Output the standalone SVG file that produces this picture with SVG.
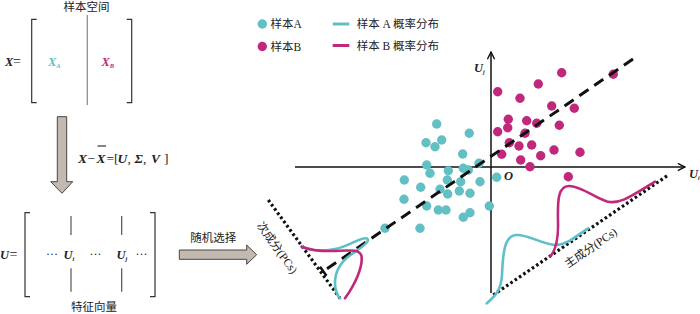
<svg xmlns="http://www.w3.org/2000/svg" width="700" height="314" viewBox="0 0 700 314">
<style>
text{font-family:"Liberation Serif","Noto Sans CJK SC",serif;fill:#222}
.cn{font-size:11.5px}
.m{font-size:12.5px;font-style:italic;font-weight:bold}
.n{font-style:normal;font-weight:normal}
.br{fill:none;stroke:#333;stroke-width:1.2}
.gl{stroke:#888;stroke-width:1.2}
.ar{fill:#c2b9b1;stroke:#4a4440;stroke-width:1}
.ca{fill:#62c0c5}
.ma{fill:#c0297b}
.cl{fill:none;stroke:#5ec0c6;stroke-width:2.6;stroke-linecap:round}
.ml{fill:none;stroke:#c0297b;stroke-width:2.6;stroke-linecap:round}
.ax{stroke:#111;stroke-width:1.5;fill:none}
.dot{stroke:#111;stroke-width:3.2;stroke-dasharray:2.6 2.6;fill:none}
.dash{stroke:#111;stroke-width:3;stroke-dasharray:11 7;fill:none}
</style>
<defs>
<marker id="ah" viewBox="0 0 10 10" refX="9" refY="5" markerWidth="9" markerHeight="9" markerUnits="userSpaceOnUse" orient="auto"><path d="M1,1 L9,5 L1,9" fill="none" stroke="#111" stroke-width="1.6"/></marker>
</defs>

<g id="sample-space">
<text class="cn" x="86.5" y="11" text-anchor="middle">样本空间</text>
<text x="5" y="66" class="m">X</text>
<text x="13" y="66" font-size="14">=</text>
<path class="br" d="M36.7,19.3 H31.7 V102.7 H36.7"/>
<path class="br" d="M126.7,19.3 H131.7 V102.7 H126.7"/>
<line class="gl" x1="87.3" y1="15" x2="87.3" y2="105"/>
<text x="48" y="66" class="m" style="fill:#5ec0c6">X<tspan font-size="6.5" dy="2">A</tspan></text>
<text x="101.5" y="66" class="m" style="fill:#c0297b">X<tspan font-size="6.5" dy="2">B</tspan></text>
</g>

<g id="svd-arrow">
<path class="ar" d="M57.3,116.7 H66.7 V181.7 H72.7 L62,193.3 L50.7,181.7 H57.3 Z"/>
<text y="163" font-size="13.5">
<tspan x="78" font-style="italic" font-weight="bold">X</tspan><tspan x="87.5">−</tspan><tspan x="96.5" font-style="italic" font-weight="bold">X</tspan><tspan x="106.5">=</tspan><tspan x="114">[</tspan><tspan x="117.5" font-style="italic" font-weight="bold">U</tspan><tspan x="127.5">,</tspan><tspan x="134.5" font-style="italic" font-weight="bold">Σ</tspan><tspan x="143">,</tspan><tspan x="151" font-style="italic" font-weight="bold">V</tspan><tspan x="164">]</tspan>
</text>
<line x1="97.5" y1="146" x2="106" y2="146" stroke="#222" stroke-width="1.1"/>
</g>

<g id="eigen-matrix">
<text x="0" y="258.5" class="m">U</text>
<text x="9.5" y="258.5" font-size="14">=</text>
<path class="br" d="M30,212.7 H25 V296.7 H30"/>
<path class="br" d="M150,212.7 H155 V296.7 H150"/>
<line class="gl" x1="71" y1="216" x2="71" y2="235" style="stroke:#555"/>
<line class="gl" x1="71" y1="268.3" x2="71" y2="291.7" style="stroke:#555"/>
<line class="gl" x1="121.7" y1="216" x2="121.7" y2="235" style="stroke:#555"/>
<line class="gl" x1="121.7" y1="268.3" x2="121.7" y2="291.7" style="stroke:#555"/>
<text x="46" y="258" font-size="12">···</text>
<text x="63.5" y="258.5" class="m">U<tspan font-size="6.5" dy="2">i</tspan></text>
<text x="89.5" y="258" font-size="12">···</text>
<text x="116.5" y="258.5" class="m">U<tspan font-size="6.5" dy="2">j</tspan></text>
<text x="135.5" y="258" font-size="12">···</text>
<text class="cn" x="94" y="311" text-anchor="middle">特征向量</text>
</g>

<g id="random-select">
<path class="ar" d="M179.3,250 H246.7 V245 L256.7,254.7 L246.7,264.3 V259.3 H179.3 Z"/>
<text class="cn" x="213.3" y="241.5" text-anchor="middle">随机选择</text>
</g>

<g id="legend">
<circle class="ca" cx="262.3" cy="24" r="4.7"/>
<text class="cn" x="270.5" y="28">样本A</text>
<circle class="ma" cx="262.3" cy="46.5" r="4.7"/>
<text class="cn" x="270.5" y="50.5">样本B</text>
<line x1="332.7" y1="24" x2="349.3" y2="24" stroke="#5ec0c6" stroke-width="3"/>
<text class="cn" x="356.7" y="28">样本 A 概率分布</text>
<line x1="332.7" y1="45.5" x2="349.3" y2="45.5" stroke="#c0297b" stroke-width="3"/>
<text class="cn" x="356.7" y="50">样本 B 概率分布</text>
</g>

<g id="axes">
<line class="ax" x1="295" y1="167" x2="685" y2="167" marker-end="url(#ah)"/>
<line class="ax" x1="491" y1="293" x2="491" y2="52" marker-end="url(#ah)"/>
<text x="474" y="72" class="m" font-size="11">U<tspan font-size="6" dy="2">j</tspan></text>
<text x="689" y="178" class="m" font-size="11">U<tspan font-size="6" dy="2">i</tspan></text>
<text x="504" y="180" class="m" font-size="11">O</text>
</g>

<g id="samples-A">
<circle class="ca" cx="436.7" cy="124" r="4.7"/>
<circle class="ca" cx="426" cy="142.7" r="4.7"/>
<circle class="ca" cx="441.7" cy="140" r="4.7"/>
<circle class="ca" cx="435" cy="146.7" r="4.7"/>
<circle class="ca" cx="469.3" cy="133.3" r="4.7"/>
<circle class="ca" cx="462.7" cy="154" r="4.7"/>
<circle class="ca" cx="426.7" cy="165" r="4.7"/>
<circle class="ca" cx="430" cy="173.3" r="4.7"/>
<circle class="ca" cx="448.3" cy="170.7" r="4.7"/>
<circle class="ca" cx="463.3" cy="168.3" r="4.7"/>
<circle class="ca" cx="468.3" cy="170" r="4.7"/>
<circle class="ca" cx="479" cy="163.3" r="4.7"/>
<circle class="ca" cx="447.3" cy="180" r="4.7"/>
<circle class="ca" cx="460.7" cy="181.7" r="4.7"/>
<circle class="ca" cx="480" cy="181.7" r="4.7"/>
<circle class="ca" cx="404.3" cy="180" r="4.7"/>
<circle class="ca" cx="420.7" cy="187.3" r="4.7"/>
<circle class="ca" cx="440" cy="189.3" r="4.7"/>
<circle class="ca" cx="447.7" cy="194" r="4.7"/>
<circle class="ca" cx="459.3" cy="191" r="4.7"/>
<circle class="ca" cx="470" cy="193.3" r="4.7"/>
<circle class="ca" cx="404" cy="199.3" r="4.7"/>
<circle class="ca" cx="426.7" cy="206" r="4.7"/>
<circle class="ca" cx="438.3" cy="210" r="4.7"/>
<circle class="ca" cx="446" cy="210" r="4.7"/>
<circle class="ca" cx="470" cy="212.7" r="4.7"/>
<circle class="ca" cx="463.3" cy="217.3" r="4.7"/>
<circle class="ca" cx="489.3" cy="206" r="4.7"/>
<circle class="ca" cx="496.7" cy="177.3" r="4.7"/>
<circle class="ca" cx="385" cy="228.3" r="4.7"/>
<circle class="ca" cx="420" cy="228.3" r="4.7"/>
</g>

<g id="samples-B">
<circle class="ma" cx="561.7" cy="72.7" r="4.7"/>
<circle class="ma" cx="613.3" cy="74.3" r="4.7"/>
<circle class="ma" cx="538.3" cy="84" r="4.7"/>
<circle class="ma" cx="497.7" cy="91.7" r="4.7"/>
<circle class="ma" cx="520" cy="98.3" r="4.7"/>
<circle class="ma" cx="551.7" cy="106" r="4.7"/>
<circle class="ma" cx="574.3" cy="108.3" r="4.7"/>
<circle class="ma" cx="508.3" cy="119.3" r="4.7"/>
<circle class="ma" cx="526.7" cy="120.7" r="4.7"/>
<circle class="ma" cx="536.7" cy="123.3" r="4.7"/>
<circle class="ma" cx="507.7" cy="127.7" r="4.7"/>
<circle class="ma" cx="559.3" cy="125.3" r="4.7"/>
<circle class="ma" cx="497.7" cy="131.7" r="4.7"/>
<circle class="ma" cx="525" cy="133.3" r="4.7"/>
<circle class="ma" cx="509.3" cy="142.7" r="4.7"/>
<circle class="ma" cx="519" cy="146" r="4.7"/>
<circle class="ma" cx="531.7" cy="145" r="4.7"/>
<circle class="ma" cx="554" cy="150" r="4.7"/>
<circle class="ma" cx="580" cy="152.3" r="4.7"/>
<circle class="ma" cx="501.7" cy="154.3" r="4.7"/>
<circle class="ma" cx="540.7" cy="155.7" r="4.7"/>
<circle class="ma" cx="520.7" cy="160" r="4.7"/>
<circle class="ma" cx="530" cy="166.7" r="4.7"/>
<circle class="ma" cx="568.3" cy="176.7" r="4.7"/>
</g>

<g id="components">
<line class="dash" x1="633" y1="59" x2="324.3" y2="270.7"/>
<line x1="320" y1="266.7" x2="326.5" y2="275.7" stroke="#111" stroke-width="2.4"/>
<line class="dot" x1="268.3" y1="200" x2="340" y2="298.3"/>
<line class="dot" x1="493.3" y1="295" x2="668.3" y2="175"/>
<text class="cn" font-size="11" text-anchor="middle" transform="translate(274,250) rotate(54)">次成分(PCs)</text>
<text class="cn" font-size="11" text-anchor="middle" transform="translate(593,251) rotate(-34.5)">主成分(PCs)</text>
</g>

<g id="distributions">
<path class="cl" d="M486.7,303.3 C495,296 501,291 502,275 C503,250 505,236 516,235 C528,234 540,244 556,245 C568,245 578,234 588.3,228.3"/>
<path class="ml" d="M550,256.7 C556,250 558.5,240 558,222 C557.5,200 558,186 569,186 C581,186 593,197 607,201.5 C620,205 633,195 655,181.7"/>
<path class="cl" d="M301.7,246.7 C310,251 320,252 335,249 C350,246 362,236 367,238.5 C371,241 362,247 352,254 C340,262 335,272 335,283 C335,290 337,295 340,298.3"/>
<path class="ml" d="M301.7,246.7 C310,250 320,252 340,250.7 C352,250 360,250 361.5,256 C363,266 356,283 345,298.3"/>
</g>
</svg>
